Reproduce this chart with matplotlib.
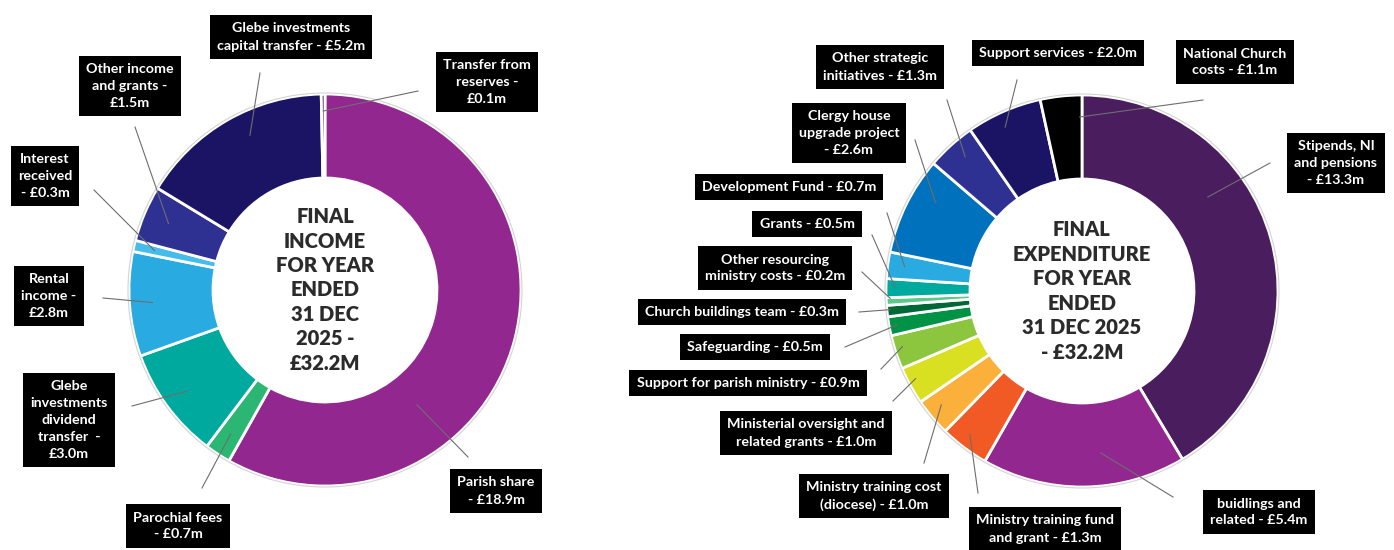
import numpy as np
import matplotlib.pyplot as plt
from matplotlib.patches import Circle

W, H = 1394, 550

# ---- data ----
income_labels = ["Parish share\n- £18.9m", "Parochial fees\n- £0.7m",
                 "Glebe\ninvestments\ndividend\ntransfer  -\n£3.0m",
                 "Rental\nincome -\n£2.8m", "Interest\nreceived\n- £0.3m",
                 "Other income\nand grants -\n£1.5m",
                 "Glebe investments\ncapital transfer - £5.2m",
                 "Transfer from\nreserves -\n£0.1m"]
income_values = [18.9, 0.7, 3.0, 2.8, 0.3, 1.5, 5.2, 0.1]
income_colors = ["#92278f", "#2bb673", "#00a99d", "#29abe2", "#45bce9",
                 "#2e3192", "#1b1464", "#4b2a5e"]

spend_labels = ["Stipends, NI\nand pensions\n- £13.3m", "buidlings and\nrelated - £5.4m",
                "Ministry training fund\nand grant - £1.3m",
                "Ministry training cost\n(diocese) - £1.0m",
                "Ministerial oversight and\nrelated grants - £1.0m",
                "Support for parish ministry - £0.9m", "Safeguarding - £0.5m",
                "Church buildings team - £0.3m",
                "Other resourcing\nministry costs - £0.2m", "Grants - £0.5m",
                "Development Fund - £0.7m",
                "Clergy house\nupgrade project\n- £2.6m",
                "Other strategic\ninitiatives - £1.3m", "Support services - £2.0m",
                "National Church\ncosts - £1.1m"]
spend_values = [13.3, 5.4, 1.3, 1.0, 1.0, 0.9, 0.5, 0.3, 0.2, 0.5, 0.7, 2.6, 1.3, 2.0, 1.1]
spend_colors = ["#4a1d5e", "#92278f", "#f15a24", "#fbb03b", "#d9e021", "#8cc63f",
                "#009245", "#006837", "#5cc98a", "#00a99d", "#29abe2", "#0071bc",
                "#2e3192", "#1b1464", "#000000"]

# ---- layout (pixel positions, from top-left) ----
income_boxes = [(496, 491), (178, 526), (69, 420), (49, 296), (45, 176),
                (130, 86), (291, 37), (487, 82)]
income_starts = [(468, 457), (202, 488), (132, 406), (103, 298), (94, 190),
                 (135, 127), (260, 73), (418, 91)]
income_anchor = [(0.675, 147), (0.5, 172), (0.5, 171), (0.5, 173), (0.5, 175),
                 (0.5, 170), (0.57, 172), (0.5, 179)]

spend_boxes = [(1336, 163), (1259, 512), (1045, 529), (874, 496), (806, 433),
               (748, 383), (755, 347), (742, 312), (775, 268), (807, 224),
               (789, 187), (849, 133), (880, 67), (1058, 53), (1235, 62)]
spend_starts = [(1270, 163), (1173, 497), (978, 493), (924, 463), (893, 401),
                (881, 369), (845, 347), (859, 312), (862, 272), (872, 235),
                (887, 213), (915, 140), (947, 100), (1017, 80), (1203, 100)]
spend_anchor = [(0.357, 157), (0.40, 163), (0.57, 182), (0.6, 181), (0.6, 188),
                (0.6, 188), (0.5, 188), (0.6, 193), (0.9, 192), (0.57, 187),
                (0.53, 179), (0.67, 171), (0.57, 178), (0.43, 181), (0.94, 174)]

R, R_IN = 196, 112

fig = plt.figure(figsize=(W / 100, H / 100), dpi=100)
ax = fig.add_axes([0, 0, 1, 1])


def donut(cx, cy, values, colors, labels, boxes, starts, anchors, centre_text):
    cy = H - cy
    wedges, _ = ax.pie(values, colors=colors, startangle=90, counterclock=False,
                       radius=R, center=(cx, cy),
                       wedgeprops=dict(width=R - R_IN, edgecolor="white", linewidth=2))
    ax.add_patch(Circle((cx, cy), R + 1, fill=False, ec="#d4d4d4", lw=0.8))
    for w, lab, (bx, by), (sx, sy), (f, r) in zip(wedges, labels, boxes, starts, anchors):
        ang = np.radians(w.theta2 - f * (w.theta2 - w.theta1))
        ax.plot([sx, cx + r * np.cos(ang)], [H - sy, cy + r * np.sin(ang)],
                color="#6e6e6e", lw=0.8, zorder=3)
        ax.text(bx, H - by, lab, color="white", fontsize=10.3, family="Lato",
                fontweight="bold", ha="center", va="center", linespacing=1.5,
                zorder=4,
                bbox=dict(boxstyle="square,pad=0.5", fc="black", ec="none"))
    ax.text(cx, cy, centre_text, color="#2b2b2b", fontsize=14.5, family="Lato",
            fontweight="heavy", ha="center", va="center", linespacing=1.34)


donut(325, 290, income_values, income_colors, income_labels, income_boxes,
      income_starts, income_anchor,
      "FINAL\nINCOME\nFOR YEAR\nENDED\n31 DEC\n2025 -\n£32.2M")
donut(1082, 291, spend_values, spend_colors, spend_labels, spend_boxes,
      spend_starts, spend_anchor,
      "FINAL\nEXPENDITURE\nFOR YEAR\nENDED\n31 DEC 2025\n- £32.2M")

ax.set_xlim(0, W)
ax.set_ylim(0, H)
ax.set_aspect("equal")
ax.axis("off")

fig.savefig("out.png", dpi=100)
